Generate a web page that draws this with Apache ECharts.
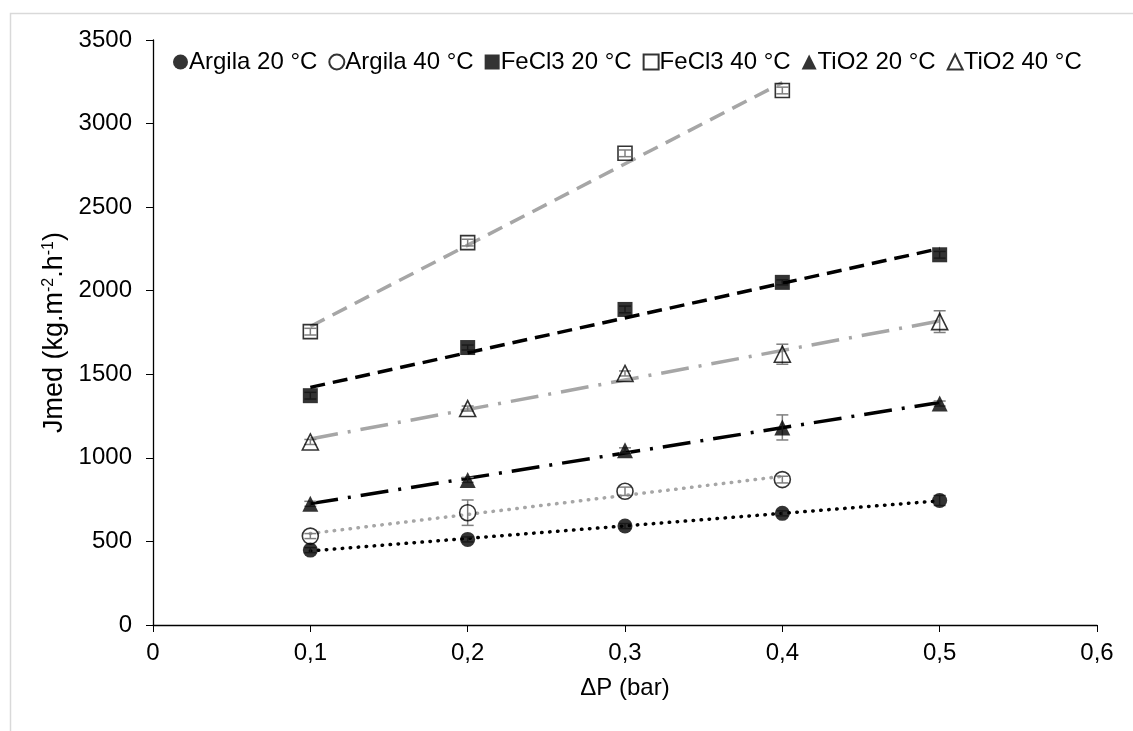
<!DOCTYPE html>
<html>
<head>
<meta charset="utf-8">
<script src="https://cdn.jsdelivr.net/npm/echarts@6/dist/echarts.min.js"></script>
<style>html,body{margin:0;padding:0;background:#fff}#c{width:1133px;height:731px}</style>
</head>
<body>
<div id="c"></div>
<script>
const pressure = [0.1, 0.2, 0.3, 0.4, 0.5];
const seriesNames = ['Argila 20 °C', 'Argila 40 °C', 'FeCl3 20 °C', 'FeCl3 40 °C', 'TiO2 20 °C', 'TiO2 40 °C'];
const argila20 = [448, 512, 592, 668, 745];
const argila40 = [532, 672, 800, 870];
const fecl3_20 = [1372, 1660, 1888, 2050, 2215];
const fecl3_40 = [1755, 2288, 2822, 3198];
const tio2_20 = [725, 868, 1045, 1182, 1325];
const tio2_40 = [1095, 1295, 1505, 1620, 1815];
const argila20Err = [15, 15, 15, 15, 30];
const argila40Err = [15, 76, 25, 20];
const fecl3_20Err = [20, 15, 20, 15, 20];
const fecl3_40Err = [20, 20, 20, 20];
const tio2_20Err = [15, 15, 15, 75, 15];
const tio2_40Err = [15, 15, 15, 60, 65];

const values = [argila20, argila40, fecl3_20, fecl3_40, tio2_20, tio2_40];
const errors = [argila20Err, argila40Err, fecl3_20Err, fecl3_40Err, tio2_20Err, tio2_40Err];
const symbols = ['circle', 'circle', 'rect', 'rect', 'triangle', 'triangle'];
const filled = [true, false, true, false, true, false];
const lineColors = ['#000000', '#a6a6a6', '#000000', '#a6a6a6', '#000000', '#a6a6a6'];
const dashes = [[0.5, 7.5], [0.5, 7.5], [15, 8], [16, 9], [28, 10, 3, 10], [28, 10, 3, 10]];
const caps = ['round', 'round', 'butt', 'butt', 'butt', 'butt'];
const symbolSizes = [15, 16, 15, 14, 16, 16];

function fit(xs, ys) {
  const n = ys.length;
  const x = xs.slice(0, n);
  const mx = x.reduce((a, b) => a + b, 0) / n;
  const my = ys.reduce((a, b) => a + b, 0) / n;
  let sxy = 0, sxx = 0;
  for (let i = 0; i < n; i++) { sxy += (x[i] - mx) * (ys[i] - my); sxx += (x[i] - mx) ** 2; }
  const b = sxy / sxx, a = my - b * mx;
  return [[x[0], a + b * x[0]], [x[n - 1], a + b * x[n - 1]]];
}

const series = [];
values.forEach((ys, i) => {
  series.push({
    name: seriesNames[i] + ' trend',
    type: 'line',
    data: fit(pressure, ys),
    showSymbol: false,
    silent: true,
    z: 2,
    lineStyle: { color: lineColors[i], width: 3.5, type: dashes[i], cap: caps[i] }
  });
});
values.forEach((ys, i) => {
  series.push({
    name: seriesNames[i] + ' err',
    type: 'custom',
    z: 3,
    silent: true,
    data: ys.map((v, k) => [pressure[k], v, errors[i][k]]),
    renderItem: function (params, api) {
      const x = api.value(0), y = api.value(1), e = api.value(2);
      const top = api.coord([x, y + e]);
      const bot = api.coord([x, y - e]);
      const w = 6;
      const st = { stroke: '#7f7f7f', lineWidth: 1.5 };
      return {
        type: 'group',
        children: [
          { type: 'line', shape: { x1: top[0], y1: top[1], x2: bot[0], y2: bot[1] }, style: st },
          { type: 'line', shape: { x1: top[0] - w, y1: top[1], x2: top[0] + w, y2: top[1] }, style: st },
          { type: 'line', shape: { x1: bot[0] - w, y1: bot[1], x2: bot[0] + w, y2: bot[1] }, style: st }
        ]
      };
    }
  });
});
values.forEach((ys, i) => {
  series.push({
    name: seriesNames[i],
    type: 'scatter',
    symbol: symbols[i],
    symbolSize: symbolSizes[i],
    z: 4,
    itemStyle: filled[i] ? { color: '#000' } : { color: 'rgba(255,255,255,0)', borderColor: '#000', borderWidth: 1.6 },
    data: ys.map((v, k) => [pressure[k], v])
  });
});

const font = 'Liberation Sans';
const chart = echarts.init(document.getElementById('c'));
chart.setOption({
  animation: false,
  backgroundColor: '#fff',
  textStyle: { fontFamily: font },
  graphic: [{
    type: 'rect', left: 8, top: 11, z: -10,
    shape: { width: 1140, height: 740 },
    style: { fill: 'none', stroke: '#d9d9d9', lineWidth: 1.5 }
  }],
  legend: {
    data: seriesNames,
    top: 45,
    left: 168,
    itemGap: 11,
    itemWidth: 15,
    itemHeight: 15,
    textStyle: { fontFamily: font, fontSize: 24, color: '#000', padding: [0, 0, 0, -4] }
  },
  grid: { left: 153, right: 36, top: 40, bottom: 106 },
  xAxis: {
    type: 'value', min: 0, max: 0.6, interval: 0.1,
    name: 'ΔP (bar)', nameLocation: 'middle', nameGap: 51,
    nameTextStyle: { fontFamily: font, fontSize: 24, color: '#000' },
    axisLine: { lineStyle: { color: '#000', width: 1.3 } },
    axisTick: { show: true, length: 7, lineStyle: { color: '#000' } },
    axisLabel: { fontFamily: font, fontSize: 24, color: '#000', margin: 16,
      formatter: v => v === 0 ? '0' : v.toFixed(1).replace('.', ',') },
    splitLine: { show: false }
  },
  yAxis: {
    type: 'value', min: 0, max: 3500, interval: 500,
    name: 'Jmed (kg.m{sup|-2}.h{sup|-1})', nameLocation: 'middle', nameGap: 72, nameRotate: 90,
    nameTextStyle: { fontFamily: font, fontSize: 27, color: '#000',
      rich: { sup: { fontFamily: font, fontSize: 16, color: '#000', verticalAlign: 'top', padding: [0, 0, 11, 0] } } },
    axisLine: { show: true, lineStyle: { color: '#000', width: 1.3 } },
    axisTick: { show: true, length: 7, lineStyle: { color: '#000' } },
    axisLabel: { fontFamily: font, fontSize: 24, color: '#000', margin: 21, formatter: v => String(v) },
    splitLine: { show: false }
  },
  series: series
});
</script>
</body>
</html>
